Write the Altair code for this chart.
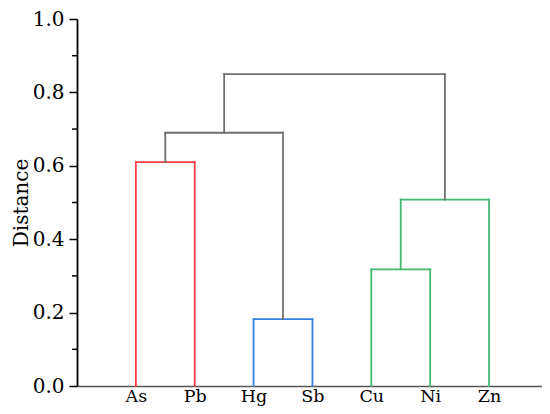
import altair as alt
import pandas as pd

leaves = ["As", "Pb", "Hg", "Sb", "Cu", "Ni", "Zn"]
# merges: (left child, right child, height, colour group)
merge_left = ["As", "Hg", "Cu", "m2", "m0", "m4"]
merge_right = ["Pb", "Sb", "Ni", "Zn", "m1", "m3"]
merge_height = [0.61, 0.182, 0.318, 0.508, 0.69, 0.85]
merge_group = ["red", "blue", "green", "green", "gray", "gray"]

major_ticks = [0.0, 0.2, 0.4, 0.6, 0.8, 1.0]
minor_ticks = [0.1, 0.3, 0.5, 0.7, 0.9]

pos = {name: float(i) for i, name in enumerate(leaves)}
hgt = {name: 0.0 for name in leaves}
rows = []
for i, (l, r, h, g) in enumerate(zip(merge_left, merge_right, merge_height, merge_group)):
    xl, xr = pos[l], pos[r]
    rows.append(dict(x=xl, x2=xl, y=hgt[l], y2=h, g=g))
    rows.append(dict(x=xr, x2=xr, y=hgt[r], y2=h, g=g))
    rows.append(dict(x=xl, x2=xr, y=h, y2=h, g=g))
    pos[f"m{i}"] = (xl + xr) / 2
    hgt[f"m{i}"] = h
seg = pd.DataFrame(rows)

label_expr = "[" + ",".join(f"'{s}'" for s in leaves) + "][datum.value]"

FONT = "DejaVu Serif"

xscale = alt.Scale(domain=[-1, 6.9], nice=False, zero=False)
yscale = alt.Scale(domain=[0, 1], nice=False)

lines = alt.Chart(seg).mark_rule(strokeWidth=1.8, strokeCap="square").encode(
    x=alt.X("x:Q", scale=xscale,
            axis=alt.Axis(values=list(range(len(leaves))), labelExpr=label_expr,
                          ticks=False, grid=False, title=None, domainColor="#555555",
                          domainWidth=1.5, labelFont=FONT, labelFontSize=17.5,
                          labelColor="#000000", labelPadding=1)),
    x2="x2:Q",
    y=alt.Y("y:Q", scale=yscale,
            axis=alt.Axis(values=major_ticks, format=".1f",
                          grid=False, title="Distance", titleFont=FONT,
                          titleFontSize=20, titleFontWeight="normal",
                          titleColor="#000000", labelFont=FONT, labelFontSize=20,
                          labelColor="#000000", tickSize=8, tickColor="#000000",
                          tickWidth=1.5, domainColor="#000000", domainWidth=1.8,
                          labelPadding=5, titlePadding=1)),
    y2="y2:Q",
    color=alt.Color("g:N", scale=alt.Scale(domain=["red", "blue", "green", "gray"],
                                           range=["#F53E44", "#3580E6", "#43B870", "#6E6E6E"]),
                    legend=None),
)

minor = alt.Chart(pd.DataFrame({"v": minor_ticks})).mark_rule(
    color="#000000", strokeWidth=1.5
).encode(
    y=alt.Y("v:Q", scale=yscale),
    x=alt.value(-5),
    x2=alt.value(0),
)

chart = alt.layer(lines, minor).properties(
    width=465, height=367,
    padding={"left": 69, "top": 11, "right": 0, "bottom": 20},
    autosize="none",
).configure_view(stroke=None)

chart.save("out.html", embed_options={"renderer": "svg", "actions": False})
